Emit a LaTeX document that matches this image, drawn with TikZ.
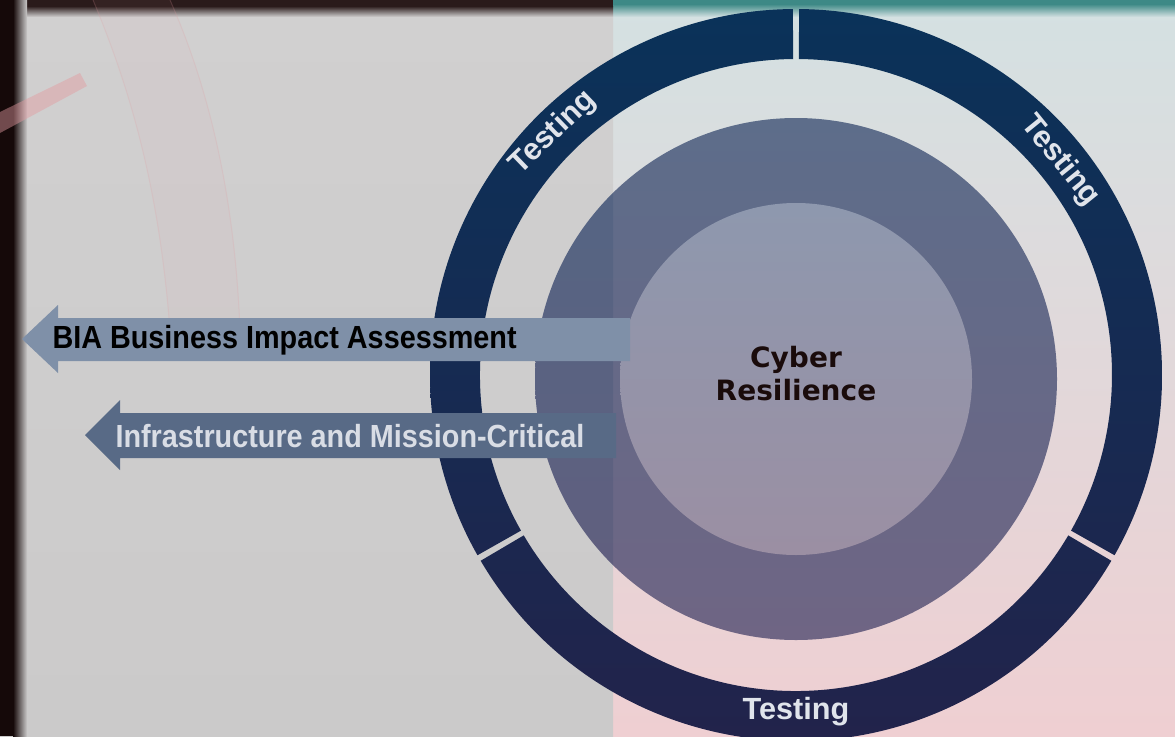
\documentclass[tikz,border=0pt]{standalone}
\usepackage{fontspec}
\setmainfont{Liberation Sans}
\newfontfamily\narrowsans{Liberation Sans}[FakeStretch=0.9]
\newfontfamily\widesans{DejaVu Sans}
\usetikzlibrary{calc}

\definecolor{bgtop}{HTML}{D4E1E2}
\definecolor{bgmid}{HTML}{E3DADB}
\definecolor{bgbot}{HTML}{EFCFD2}
\definecolor{paneltop}{HTML}{D1D0D0}
\definecolor{panelbot}{HTML}{CBCACA}
\definecolor{edgedark}{HTML}{150909}
\definecolor{topdark}{HTML}{2A1B1B}
\definecolor{topteal}{HTML}{3D8986}
\definecolor{pinkdeco}{HTML}{E39AA0}
\definecolor{ringtop}{HTML}{0A3259}
\definecolor{ringbot}{HTML}{22234B}
\definecolor{midtop}{HTML}{5D6D8A}
\definecolor{midbot}{HTML}{6F6584}
\definecolor{innertop}{HTML}{8E98AE}
\definecolor{innerbot}{HTML}{9B8FA3}
\definecolor{biafill}{HTML}{7F90A8}
\definecolor{infrafill}{HTML}{586A86}
\definecolor{infratext}{HTML}{D9DDE5}
\definecolor{ringtext}{HTML}{E0E4EB}
\definecolor{coretext}{HTML}{1A0B0B}

\tikzset{every picture/.style={line width=0.75pt}}

\begin{document}
\begin{tikzpicture}[x=0.75pt,y=0.75pt,yscale=-1,xscale=1,
	ringlabel/.style={text=ringtext, inner sep=0, font=\bfseries\fontsize{23}{27}\selectfont},
	arrowlabel/.style={anchor=west, inner sep=0, font=\narrowsans\bfseries\fontsize{24}{28}\selectfont},
	corelabel/.style={text=coretext, align=center, inner sep=0, font=\widesans\bfseries\fontsize{21}{24.75}\selectfont}]
	\useasboundingbox (0,0) rectangle (1175,736);

	% Background
	\shade [top color=bgtop, middle color=bgmid, bottom color=bgbot] (613,0) rectangle (1175,736);
	\shade [top color=paneltop, bottom color=panelbot] (0,0) rectangle (613,736);
	\fill [topteal] (613,0) rectangle (1175,4);
	\shade [top color=topteal, bottom color=bgtop] (613,4) rectangle (1175,17);
	\fill [topdark] (0,0) rectangle (613,6);
	\shade [top color=topdark, bottom color=paneltop] (0,6) rectangle (613,17);
	\fill [edgedark] (0,0) rectangle (13,736);
	\shade [left color=edgedark, right color=panelbot] (13,0) rectangle (27,736);
	% faint decoration
	\fill [pinkdeco, opacity=0.06] (93,0) .. controls (135,100) and (160,200) .. (170,330) -- (240,330) .. controls (235,200) and (210,90) .. (170,0) -- cycle;
	\draw [pinkdeco, opacity=0.2] (93,0) .. controls (135,100) and (160,200) .. (170,330);
	\draw [pinkdeco, opacity=0.2] (170,0) .. controls (210,90) and (235,200) .. (240,330);
	\fill [pinkdeco, opacity=0.45] (0,112) -- (80,73) -- (87,86) -- (0,133) -- cycle;

	\coordinate (c) at (796,375);
	\coordinate (m) at (796,379);

	% Outer ring, three segments
	\begin{scope}
		\clip \foreach \a/\b in {90.5/209.5, 330.5/449.5, 210.5/329.5}{
			($(c)+(-\a:366)$) arc [start angle=-\a, end angle=-\b, radius=366]
			-- ($(c)+(-\b:316)$) arc [start angle=-\b, end angle=-\a, radius=316] -- cycle};
		\shade [top color=ringtop, bottom color=ringbot] ($(c)+(-366,-366)$) rectangle ($(c)+(366,366)$);
	\end{scope}

	% Discs
	\shade [top color=midtop, bottom color=midbot] (m) circle [radius=261];
	\begin{scope}
		\clip (0,0) rectangle (613,736);
		\fill [ringtop, opacity=0.12] (m) circle [radius=261];
	\end{scope}
	\shade [top color=innertop, bottom color=innerbot] (m) circle [radius=176];

	% Ring labels
	\node [ringlabel, rotate=44] (testleft) at ($(c)+(-135:343)$) {Testing};
	\node [ringlabel, rotate=-51] (testright) at ($(c)+(-39:340)$) {Testing};
	\node [ringlabel] (testbottom) at ($(c)+(90:337)$) {Testing};

	% Arrows
	\fill [biafill] (630,318) -- (58,318) -- (58,305) -- (22,339) -- (58,373) -- (58,361) -- (630,361) -- cycle;
	\fill [infrafill] (616,413) -- (120,413) -- (120,400) -- (85,435) -- (120,470) -- (120,458) -- (616,458) -- cycle;
	\node [arrowlabel, text=black] (bia) at (52,340) {BIA Business Impact Assessment};
	\node [arrowlabel, text=infratext] (infra) at (115,436) {Infrastructure and Mission-Critical};

	% Centre
	\node [corelabel] (core) at (796,374) {Cyber\\Resilience};
\end{tikzpicture}
\end{document}
